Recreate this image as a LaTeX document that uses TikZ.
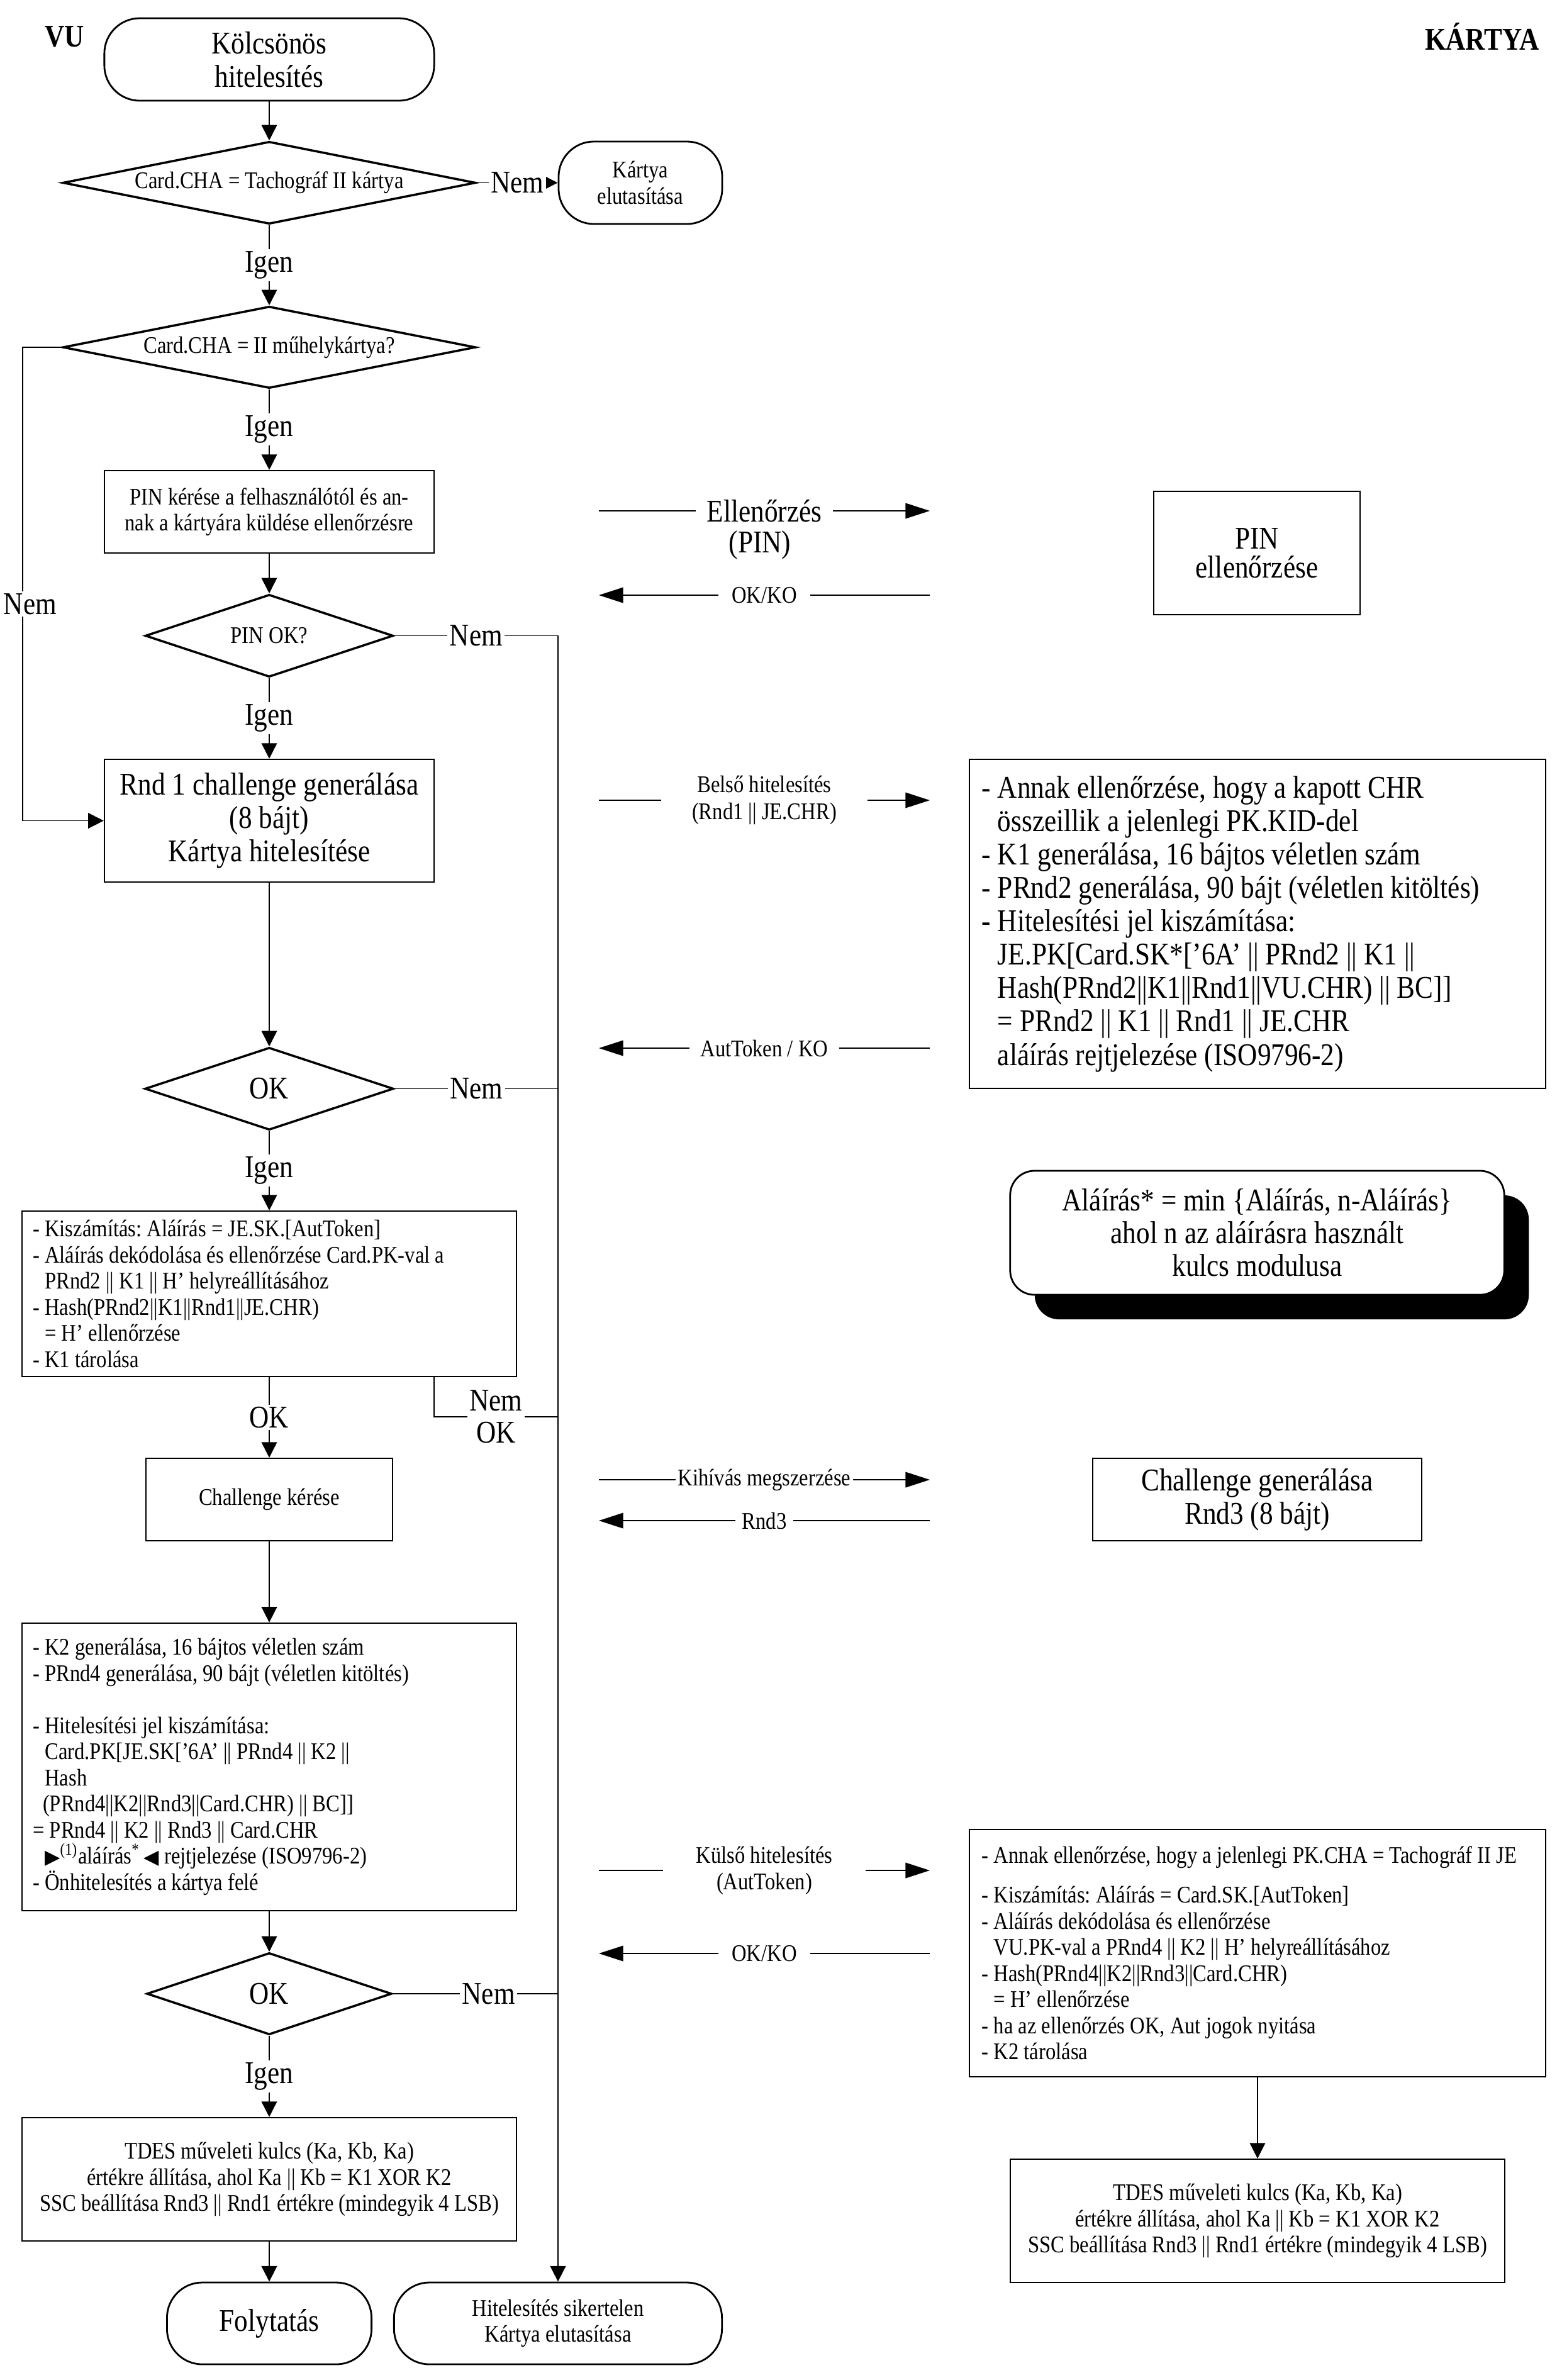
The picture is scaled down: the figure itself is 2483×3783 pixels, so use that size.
\documentclass[tikz,border=0pt]{standalone}
\usepackage{fontspec}
\setmainfont{Liberation Serif}[FakeStretch=0.86]
\newfontfamily\trifont{DejaVu Sans}
\usetikzlibrary{shapes.geometric, arrows.meta, shadows}

\newcommand{\fsm}{\fontsize{10.8}{11.8}\selectfont}
\newcommand{\flg}{\fontsize{14.3}{15.1}\selectfont}
\newcommand{\trimark}[1]{{\trifont\fontsize{9}{9}\selectfont #1}}
\newcommand{\subind}{\phantom{- }}

\begin{document}
\frenchspacing
\begin{tikzpicture}[x=0.01cm, y=-0.01cm,
    every node/.style={font=\fsm},
    box/.style={rectangle, draw, line width=0.6pt, align=center, inner sep=2pt},
    term/.style={rectangle, draw, line width=0.8pt, rounded corners=16pt, align=center, inner sep=2pt},
    dec/.style={diamond, draw, line width=1pt, aspect=5, inner sep=0pt, align=center},
    note/.style={rectangle, draw, line width=0.6pt, align=left, inner ysep=1pt,
                 execute at begin node={\spaceskip=0pt\xspaceskip=0pt\relax}},
    flow/.style={-{Triangle[length=7pt, width=7pt]}, line width=0.5pt},
    conn/.style={line width=0.5pt},
    msg/.style={-{Triangle[length=11pt, width=7pt]}, line width=0.5pt},
    ans/.style={font=\flg, fill=white, inner sep=1pt, align=center},
    lbl/.style={font=\fsm, fill=white, inner ysep=1pt, inner xsep=5pt, align=center}
]
\useasboundingbox (0,0) rectangle (2483,3783);

% === Headers ===
\node[font=\flg\bfseries] (vu) at (103,58) {VU};
\node[font=\flg\bfseries] (card) at (2356,58) {KÁRTYA};

% === VU column ===
\node[term, minimum width=5.24cm, minimum height=1.31cm, font=\flg] (start) at (428,94.5)
    {Kölcsönös\\hitelesítés};
\node[dec, minimum width=6.56cm, minimum height=1.31cm] (chkcha) at (428,290.5)
    {Card.CHA = Tachográf II kártya};
\node[term, minimum width=2.60cm, minimum height=1.31cm] (reject) at (1018,290.5)
    {Kártya\\elutasítása};
\node[dec, minimum width=6.56cm, minimum height=1.30cm] (chkws) at (428,552)
    {Card.CHA = II műhelykártya?};
\node[box, minimum width=5.24cm, minimum height=1.31cm] (pinreq) at (428,813.5)
    {PIN kérése a felhasználótól és an-\\nak a kártyára küldése ellenőrzésre};
\node[dec, minimum width=3.94cm, minimum height=1.31cm] (pinok) at (428,1010.5)
    {PIN OK?};
\node[box, minimum width=5.24cm, minimum height=1.95cm, font=\flg] (rnd1) at (428,1304.5)
    {Rnd 1 challenge generálása\\(8 bájt)\\Kártya hitelesítése};
\node[dec, minimum width=3.95cm, minimum height=1.31cm, font=\flg] (okvu1) at (428,1730.5)
    {OK};
\node[note, text width=7.51cm, inner xsep=0.17cm, minimum height=2.63cm] (calcvu1) at (428,2056.5)
    {- Kiszámítás: Aláírás = JE.SK.[AutToken]\\
     - Aláírás dekódolása és ellenőrzése Card.PK-val a\\
     \subind PRnd2 || K1 || H’ helyreállításához\\
     - Hash(PRnd2||K1||Rnd1||JE.CHR)\\
     \subind = H’ ellenőrzése\\
     - K1 tárolása};
\node[box, minimum width=3.92cm, minimum height=1.31cm] (chreq) at (428,2383.5)
    {Challenge kérése};
\node[note, text width=7.51cm, inner xsep=0.17cm, minimum height=4.57cm] (calcvu2) at (428,2808.5)
    {- K2 generálása, 16 bájtos véletlen szám\\
     - PRnd4 generálása, 90 bájt (véletlen kitöltés)\\[11.8pt]
     - Hitelesítési jel kiszámítása:\\
     \subind Card.PK[JE.SK[’6A’ || PRnd4 || K2 ||\\
     \subind Hash\\
     \hspace*{4.5pt}(PRnd4||K2||Rnd3||Card.CHR) || BC]]\\
     = PRnd4 || K2 || Rnd3 || Card.CHR\\
     \subind\trimark{▶}\textsuperscript{(1)}aláírás\textsuperscript{*}\,\trimark{◀} rejtjelezése (ISO9796-2)\\
     - Önhitelesítés a kártya felé};
\node[dec, minimum width=3.89cm, minimum height=1.30cm, font=\flg] (okvu2) at (428,3169)
    {OK};
\node[box, minimum width=7.85cm, minimum height=1.96cm] (tdesvu) at (428,3464)
    {TDES műveleti kulcs (Ka, Kb, Ka)\\
     értékre állítása, ahol Ka || Kb = K1 XOR K2\\
     SSC beállítása Rnd3 || Rnd1 értékre (mindegyik 4 LSB)};
\node[term, minimum width=3.25cm, minimum height=1.30cm, font=\flg] (cont) at (428,3693)
    {Folytatás};
\node[term, minimum width=5.21cm, minimum height=1.30cm] (fail) at (887,3693)
    {Hitelesítés sikertelen\\Kártya elutasítása};

\coordinate (wsleft) at (36,552);
\coordinate (failtop) at (887,1010.5);
\coordinate (nokA) at (690,2188);

\draw[flow] (start) -- (chkcha);
\draw[flow] (chkcha) -- node[ans] {Nem} (reject);
\draw[flow] (chkcha) -- node[ans] {Igen} (chkws);
\draw[flow] (chkws.west) -- (wsleft) |- (rnd1.west);
\node[ans] (wsnem) at (48,960) {Nem};
\draw[flow] (chkws) -- node[ans] {Igen} (pinreq);
\draw[flow] (pinreq) -- (pinok);
\draw[flow] (pinok.east) -- node[ans] {Nem} (failtop) -- (fail.north);
\draw[flow] (pinok) -- node[ans] {Igen} (rnd1);
\draw[flow] (rnd1) -- (okvu1);
\draw[conn] (okvu1.east) -- node[ans] {Nem} (okvu1.east -| failtop);
\draw[flow] (okvu1) -- node[ans] {Igen} (calcvu1);
\draw[flow] (calcvu1) -- node[ans] {OK} (chreq);
\draw[conn] (nokA) |- node[ans, pos=0.75, font=\fontsize{14.3}{14.5}\selectfont] {Nem\\OK} (failtop |- 0,2252);
\draw[flow] (chreq) -- (calcvu2);
\draw[flow] (calcvu2) -- (okvu2);
\draw[conn] (okvu2.east) -- node[ans, pos=0.58] {Nem} (okvu2.east -| failtop);
\draw[flow] (okvu2) -- node[ans] {Igen} (tdesvu);
\draw[flow] (tdesvu) -- (cont);

% === Messages ===
\coordinate (m1a) at (952,812);   \coordinate (m1b) at (1478,812);
\coordinate (m2a) at (952,946);   \coordinate (m2b) at (1478,946);
\coordinate (m3a) at (952,1272);  \coordinate (m3b) at (1478,1272);
\coordinate (m4a) at (952,1666);  \coordinate (m4b) at (1478,1666);
\coordinate (m5a) at (952,2352);  \coordinate (m5b) at (1478,2352);
\coordinate (m6a) at (952,2417);  \coordinate (m6b) at (1478,2417);
\coordinate (m7a) at (952,2973);  \coordinate (m7b) at (1478,2973);
\coordinate (m8a) at (952,3105);  \coordinate (m8b) at (1478,3105);

\draw[msg] (m1a) -- node[lbl, font=\flg] (m1t) {Ellenőrzés} (m1b);
\node[font=\flg] (m1u) at (1208,866) {(PIN)};
\draw[msg] (m2b) -- node[lbl, inner xsep=6pt] {OK/KO} (m2a);
\draw[msg] (m3a) -- node[lbl, inner xsep=14pt, font=\fontsize{10.8}{12.3}\selectfont]
    {Belső hitelesítés\\(Rnd1 || JE.CHR)} (m3b);
\draw[msg] (m4b) -- node[lbl] {AutToken / KO} (m4a);
\draw[msg] (m5a) -- node[lbl, inner xsep=1pt] {Kihívás megszerzése} (m5b);
\draw[msg] (m6b) -- node[lbl, inner xsep=3pt] {Rnd3} (m6a);
\draw[msg] (m7a) -- node[lbl, inner xsep=15pt, font=\fontsize{10.8}{12}\selectfont]
    {Külső hitelesítés\\(AutToken)} (m7b);
\draw[msg] (m8b) -- node[lbl, inner xsep=6pt] {OK/KO} (m8a);

% === Card column ===
\node[box, minimum width=3.28cm, minimum height=1.96cm, font=\fontsize{14.3}{13}\selectfont] (pinchk) at (1998,879)
    {PIN\\ellenőrzése};
\node[note, text width=8.76cm, inner xsep=0.2cm, minimum height=5.23cm, font=\flg] (calccard1) at (1999,1468.5)
    {- Annak ellenőrzése, hogy a kapott CHR\\
     \subind összeillik a jelenlegi PK.KID-del\\
     - K1 generálása, 16 bájtos véletlen szám\\
     - PRnd2 generálása, 90 bájt (véletlen kitöltés)\\
     - Hitelesítési jel kiszámítása:\\
     \subind JE.PK[Card.SK*[’6A’ || PRnd2 || K1 ||\\
     \subind Hash(PRnd2||K1||Rnd1||VU.CHR) || BC]]\\
     \subind = PRnd2 || K1 || Rnd1 || JE.CHR\\
     \subind aláírás rejtjelezése (ISO9796-2)};
\node[box, rounded corners=11pt, line width=0.8pt, fill=white, minimum width=7.85cm, minimum height=1.97cm,
      font=\fontsize{14.3}{14.8}\selectfont,
      drop shadow={shadow xshift=0.39cm, shadow yshift=-0.39cm, fill=black, opacity=1}] (sigdef) at (1998.5,1959.5)
    {Aláírás* = min \{Aláírás, n-Aláírás\}\\ahol n az aláírásra használt\\kulcs modulusa};
\node[box, minimum width=5.23cm, minimum height=1.31cm, font=\flg] (chgen) at (1998.5,2383.5)
    {Challenge generálása\\Rnd3 (8 bájt)};
\node[note, text width=8.76cm, inner xsep=0.2cm, minimum height=3.93cm] (calccard2) at (1999,3104.5)
    {- Annak ellenőrzése, hogy a jelenlegi PK.CHA = Tachográf II JE\\[6pt]
     - Kiszámítás: Aláírás = Card.SK.[AutToken]\\
     - Aláírás dekódolása és ellenőrzése\\
     \subind VU.PK-val a PRnd4 || K2 || H’ helyreállításához\\
     - Hash(PRnd4||K2||Rnd3||Card.CHR)\\
     \subind = H’ ellenőrzése\\
     - ha az ellenőrzés OK, Aut jogok nyitása\\
     - K2 tárolása};
\node[box, minimum width=7.85cm, minimum height=1.96cm] (tdescard) at (1999,3530)
    {TDES műveleti kulcs (Ka, Kb, Ka)\\
     értékre állítása, ahol Ka || Kb = K1 XOR K2\\
     SSC beállítása Rnd3 || Rnd1 értékre (mindegyik 4 LSB)};

\draw[flow] (calccard2) -- (tdescard);

\end{tikzpicture}
\end{document}
